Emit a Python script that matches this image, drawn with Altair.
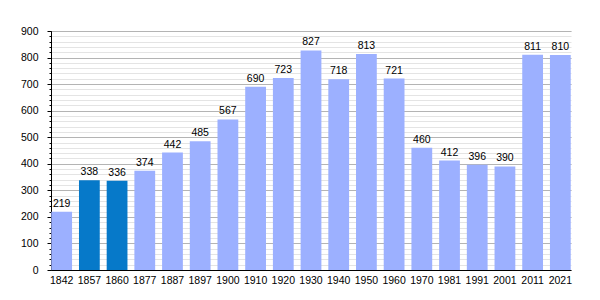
import altair as alt
import pandas as pd

years = ["1842", "1857", "1860", "1877", "1887", "1897", "1900", "1910", "1920", "1930",
         "1940", "1950", "1960", "1970", "1981", "1991", "2001", "2011", "2021"]
population = [219, 338, 336, 374, 442, 485, 567, 690, 723, 827,
              718, 813, 721, 460, 412, 396, 390, 811, 810]
highlight = ["no", "yes", "yes"] + ["no"] * 16

df = pd.DataFrame({"year": years, "pop": population, "hl": highlight})

FONT = "Liberation Sans"
FS = 10.5
yscale = alt.Scale(domain=[0, 900], nice=False)
xenc = alt.X("year:N", sort=years, scale=alt.Scale(paddingInner=0.25, paddingOuter=0.01),
             axis=alt.Axis(title=None, labelAngle=0, ticks=False, domainColor="black",
                           labelFont=FONT, labelFontSize=FS, labelColor="black", labelPadding=5))

minor = alt.Chart(df).mark_bar(opacity=0).encode(
    x=xenc,
    y=alt.Y("pop:Q", scale=yscale,
            axis=alt.Axis(title=None, values=list(range(0, 901, 20)), labels=False,
                          grid=True, gridColor="#e4e4e4", gridWidth=1, tickSize=2,
                          tickColor="black", domain=False, orient="left")),
)

bars = alt.Chart(df).mark_bar().encode(
    x=xenc,
    y=alt.Y("pop:Q", scale=yscale,
            axis=alt.Axis(title=None, values=list(range(0, 901, 100)), grid=True,
                          gridColor="#b4b4b4", gridWidth=1, tickSize=4, tickColor="black",
                          domainColor="black", labelFont=FONT, labelFontSize=FS,
                          labelColor="black", labelPadding=9, orient="left")),
    color=alt.Color("hl:N", scale=alt.Scale(domain=["no", "yes"], range=["#9cb0ff", "#0679c9"]),
                    legend=None),
)

labels = alt.Chart(df).mark_text(dy=-8, font=FONT, fontSize=FS, color="black").encode(
    x=alt.X("year:N", sort=years),
    y=alt.Y("pop:Q", scale=yscale, axis=None),
    text="pop:Q",
)

chart = alt.layer(minor, bars, labels).resolve_axis(y="independent").properties(
    width=520, height=239,
    autosize=alt.AutoSizeParams(type="none"),
    padding={"left": 51, "top": 31, "right": 29, "bottom": 30},
).configure_view(stroke=None).configure_axis(domainWidth=1)

chart.save("out.html", embed_options={"renderer": "svg", "actions": False})
